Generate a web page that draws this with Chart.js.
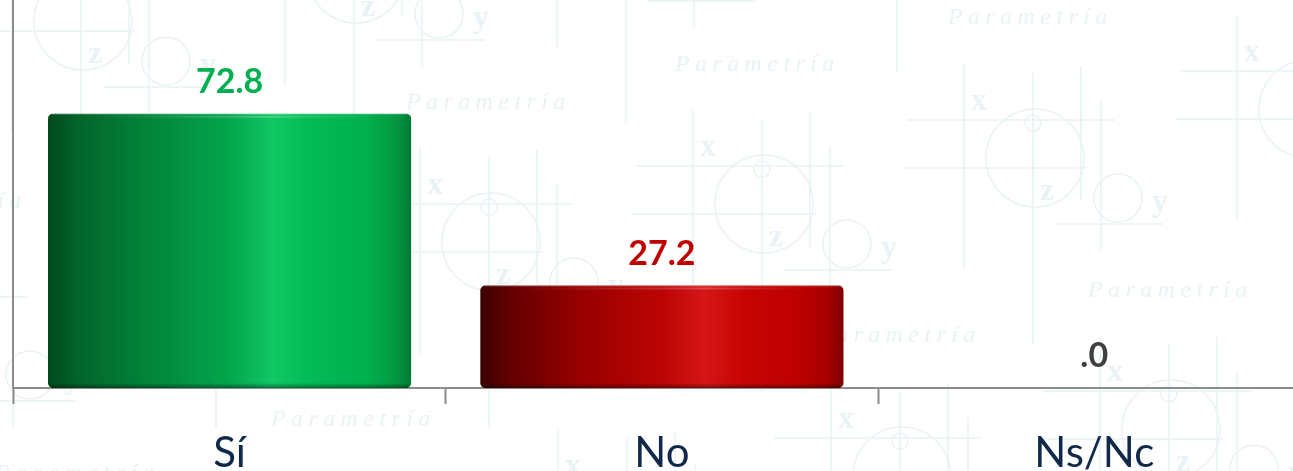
<!DOCTYPE html>
<html lang="es">
<head>
<meta charset="utf-8">
<title>Parametría</title>
<script src="https://cdn.jsdelivr.net/npm/chart.js@4"></script>
<style>
  html, body { margin: 0; padding: 0; background: #fff; overflow: hidden; }
  canvas { display: block; }
</style>
</head>
<body>
<canvas id="myChart" width="1320" height="471"></canvas>
<script>
const categories = ['Sí', 'No', 'Ns/Nc'];
const values = [72.8, 27.2, 0];
const labelColors = ['#00b050', '#c00000', '#404040'];

// stops of the cylinder shading, left to right
const gradientStops = [0, 0.08, 0.28, 0.5, 0.62, 0.72, 0.88, 0.96, 1];
const greenShades = ['#004a1c', '#03642b', '#02853a', '#03a64c', '#10c764', '#02ba56', '#01b04e', '#05963f', '#007a34'];
const redShades = ['#3a0000', '#640000', '#990000', '#bc0404', '#d61616', '#c80404', '#bd0000', '#a50000', '#7c0000'];
const shades = [greenShades, redShades, redShades];

// watermark
const wmColor = '#e9f2f4';
const motifCenters = [[83, 21], [356, -26], [628, -65], [899, -115], [218, 242], [764, 204], [491, 242], [1035, 158], [1308, 109], [1171, 429], [902, 476], [629, 523], [-53, 335]];
const wmTexts = [[948, 24], [675, 71], [406, 109], [1088, 297], [816, 342], [271, 426], [-138, 208], [-5, 480]];

function drawMotif(c, cx, cy) {
    c.beginPath();
    c.moveTo(cx - 128, cy - 38); c.lineTo(cx + 80, cy - 38);
    c.moveTo(cx - 132, cy + 10); c.lineTo(cx + 52, cy + 10);
    c.moveTo(cx + 20, cy + 66); c.lineTo(cx + 128, cy + 66);
    c.moveTo(cx - 71, cy - 94); c.lineTo(cx - 71, cy + 112);
    c.moveTo(cx - 2, cy - 85); c.lineTo(cx - 2, cy + 187);
    c.moveTo(cx + 46, cy - 92); c.lineTo(cx + 46, cy + 43);
    c.moveTo(cx + 66, cy - 58); c.lineTo(cx + 66, cy + 92);
    c.moveTo(cx + 49, cy); c.arc(cx, cy, 49, 0, Math.PI * 2);
    c.moveTo(cx + 6, cy - 35); c.arc(cx - 2, cy - 35, 8, 0, Math.PI * 2);
    c.moveTo(cx + 107, cy + 40); c.arc(cx + 83, cy + 40, 24, 0, Math.PI * 2);
    c.stroke();
    c.font = 'bold 32px "Liberation Serif"';
    c.textAlign = 'center';
    c.textBaseline = 'middle';
    c.fillText('x', cx - 56, cy - 56);
    c.fillText('z', cx + 12, cy + 34);
    c.fillText('y', cx + 125, cy + 45);
}

const watermark = {
    id: 'watermark',
    beforeDraw(chart) {
        const c = chart.ctx;
        c.save();
        c.strokeStyle = wmColor;
        c.fillStyle = wmColor;
        c.lineWidth = 1.5;
        motifCenters.forEach(m => drawMotif(c, m[0], m[1]));
        c.font = 'italic 24px "Liberation Serif"';
        c.textAlign = 'left';
        c.textBaseline = 'alphabetic';
        c.letterSpacing = '5.4px';
        wmTexts.forEach(t => c.fillText('Parametría', t[0], t[1]));
        c.restore();
    }
};

// top and bottom rim of the bars, and the value over each one
const barExtras = {
    id: 'barExtras',
    afterDatasetsDraw(chart) {
        const c = chart.ctx;
        chart.getDatasetMeta(0).data.forEach((bar, i) => {
            const left = bar.x - bar.width / 2;
            if (values[i] > 0) {
                // pale edge along the top
                c.fillStyle = 'rgba(255,255,255,0.22)';
                c.fillRect(left + 4, bar.y, bar.width - 8, 1);
                // soft highlight under it, strongest around the bright band
                const shine = c.createLinearGradient(left, 0, left + bar.width, 0);
                shine.addColorStop(0.1, 'rgba(255,255,255,0)');
                shine.addColorStop(0.62, 'rgba(255,255,255,0.22)');
                shine.addColorStop(0.9, 'rgba(255,255,255,0)');
                c.fillStyle = shine;
                c.fillRect(left + 4, bar.y + 2, bar.width - 8, 2);
                const bottom = c.createLinearGradient(0, bar.base - 5, 0, bar.base);
                bottom.addColorStop(0, 'rgba(0,0,0,0)');
                bottom.addColorStop(1, 'rgba(0,0,0,0.42)');
                c.fillStyle = bottom;
                c.fillRect(left + 3, bar.base - 5, bar.width - 6, 5);
            }
            c.font = 'bold 34px Lato';
            c.fillStyle = labelColors[i];
            c.textAlign = 'center';
            c.textBaseline = 'middle';
            c.fillText(values[i].toFixed(1).replace(/^0/, ''), bar.x, bar.y - 32);
        });
    }
};

function barGradient(context) {
    const chart = context.chart;
    const xScale = chart.scales.x;
    if (!xScale || !xScale.width) return shades[context.dataIndex][3];
    const center = xScale.getPixelForValue(context.dataIndex);
    const halfWidth = xScale.width / categories.length * 0.84 / 2;
    const g = chart.ctx.createLinearGradient(center - halfWidth, 0, center + halfWidth, 0);
    gradientStops.forEach((s, i) => g.addColorStop(s, shades[context.dataIndex][i]));
    return g;
}

new Chart(document.getElementById('myChart'), {
    type: 'bar',
    data: {
        labels: categories,
        datasets: [{
            data: values,
            backgroundColor: barGradient,
            borderRadius: 5,
            borderSkipped: false,
            barPercentage: 0.84,
            categoryPercentage: 1
        }]
    },
    options: {
        responsive: false,
        animation: false,
        layout: { padding: { left: 13.4, right: 9.6, top: 0, bottom: 0 } },
        plugins: { legend: { display: false }, tooltip: { enabled: false } },
        scales: {
            x: {
                afterFit(scale) { scale.height = 83; },
                grid: { drawOnChartArea: false, drawTicks: true, tickLength: 16, tickColor: '#8c8c8c', tickWidth: 2, offset: true },
                border: { color: '#8c8c8c', width: 2 },
                ticks: { color: '#10294a', font: { family: 'Lato', size: 42 }, padding: 24, maxRotation: 0 }
            },
            y: {
                min: 0,
                max: 103,
                afterFit(scale) { scale.width = 0; },
                grid: { display: false },
                border: { color: '#8c8c8c', width: 2 },
                ticks: { display: false }
            }
        }
    },
    plugins: [watermark, barExtras]
});
</script>
</body>
</html>
